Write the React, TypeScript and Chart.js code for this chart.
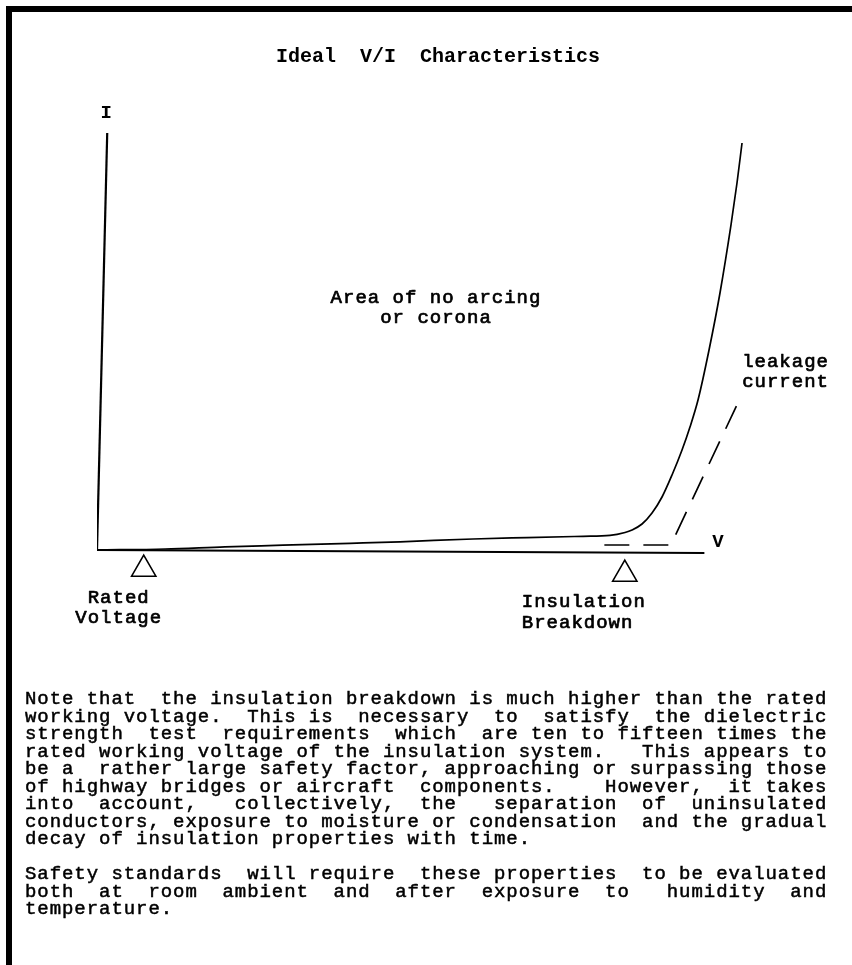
import React, { useEffect, useRef } from "react";
import { Chart, registerables } from "chart.js";

Chart.register(...registerables);

// ---- text ----
const chartTitle = "Ideal  V/I  Characteristics";
const yAxisLabel = "I";
const xAxisLabel = "V";
const areaLabel = ["Area of no arcing", "or corona"];
const leakageLabel = ["leakage", "current"];
const markerLabels = [
  ["Rated", "Voltage"],
  ["Insulation", "Breakdown"],
];

// ---- axes (the scanned page is slightly skewed) ----
const yAxisV = [0, 1.4];
const yAxisI = [0, 100];
const xAxisV = [0, 83.2];
const xAxisI = [0, -0.7];

// ---- ideal V/I characteristic ----
const curveV = [0, 9.32, 17.53, 25.48, 34.66, 41.51, 51.51, 58.9, 66.58, 70.27, 72.33, 73.29, 74.66, 76.03, 77.4, 78.77, 80.14, 81.23, 82.33, 83.84, 85.34, 86.85, 87.67, 88.36];
const curveI = [0, 0.24, 0.77, 1.15, 1.61, 1.97, 2.64, 2.97, 3.29, 3.5, 4.2, 4.8, 6.24, 8.87, 12.71, 17.99, 23.98, 29.5, 35.97, 47.96, 61.63, 77.94, 88.01, 97.6];

// ---- leakage current (dashed) ----
const leakageV = [69.5, 78.6, 88.1];
const leakageI = [1.2, 1.2, 36.4];

// ---- triangle markers: rated voltage, insulation breakdown ----
const markerV = [6.4, 72.3];
const markerI = [-4.6, -5.8];

// ---- note text ----
const noteLines = [
  "Note that  the insulation breakdown is much higher than the rated",
  "working voltage.  This is  necessary  to  satisfy  the dielectric",
  "strength  test  requirements  which  are ten to fifteen times the",
  "rated working voltage of the insulation system.   This appears to",
  "be a  rather large safety factor, approaching or surpassing those",
  "of highway bridges or aircraft  components.    However,  it takes",
  "into  account,   collectively,  the   separation  of  uninsulated",
  "conductors, exposure to moisture or condensation  and the gradual",
  "decay of insulation properties with time.",
  "",
  "Safety standards  will require  these properties  to be evaluated",
  "both  at  room  ambient  and  after  exposure  to   humidity  and",
  "temperature.",
];

const MONO = '"Liberation Mono", "DejaVu Sans Mono", monospace';
const W = 852;
const H = 965;

const zip = (xs: number[], ys: number[]) => xs.map((x, i) => ({ x, y: ys[i] }));

const textPlugin = {
  id: "docText",
  afterDatasetsDraw(chart: any) {
    const { ctx } = chart;
    const xs = chart.scales.x;
    const ys = chart.scales.y;
    const px = (v: number) => xs.getPixelForValue(v);
    const py = (i: number) => ys.getPixelForValue(i);
    const setFont = (weight: string, size: number, spacing: string) => {
      ctx.font = `${weight} ${size}px ${MONO}`;
      (ctx as any).letterSpacing = spacing;
    };
    const put = (s: string, x: number, y: number) => {
      ctx.fillText(s, x, y);
      ctx.strokeText(s, x, y);
    };
    ctx.save();
    ctx.fillStyle = "#000";
    ctx.strokeStyle = "#000";
    ctx.lineWidth = 0.7;
    ctx.lineJoin = "round";
    ctx.textBaseline = "alphabetic";

    // title
    setFont("bold", 20, "0px");
    ctx.textAlign = "center";
    ctx.fillText(chartTitle, 438, 62);

    // axis letters
    setFont("bold", 19, "0px");
    ctx.textAlign = "center";
    ctx.fillText(yAxisLabel, px(yAxisV[1]) - 1, py(yAxisI[1]) - 15);
    ctx.textAlign = "left";
    ctx.fillText(xAxisLabel, px(xAxisV[1]) + 8, py(xAxisI[1]) - 6);

    setFont("normal", 19, "1px");
    // area label
    ctx.textAlign = "center";
    put(areaLabel[0], 436, 303);
    put(areaLabel[1], 436, 323);

    // leakage label
    ctx.textAlign = "left";
    const lx = px(leakageV[2]) + 2;
    const ly = py(leakageI[2]) - 31;
    put(leakageLabel[0], lx, ly);
    put(leakageLabel[1], lx, ly + 20);

    // marker labels
    ctx.textAlign = "center";
    const r0x = px(markerV[0]) - 25;
    const r0y = py(markerI[0]) + 34;
    put(markerLabels[0][0], r0x, r0y);
    put(markerLabels[0][1], r0x, r0y + 20);
    ctx.textAlign = "left";
    const r1x = px(markerV[1]) - 103;
    const r1y = py(markerI[1]) + 33;
    put(markerLabels[1][0], r1x, r1y);
    put(markerLabels[1][1], r1x, r1y + 21);

    ctx.restore();
  },
};

export default function App() {
  const canvasRef = useRef<HTMLCanvasElement | null>(null);

  useEffect(() => {
    const canvas = canvasRef.current;
    if (!canvas) return;
    const chart = new Chart(canvas, {
      type: "scatter",
      data: {
        datasets: [
          {
            label: "I axis",
            data: zip(yAxisV, yAxisI),
            showLine: true,
            borderColor: "#000",
            borderWidth: 2.2,
            pointRadius: 0,
          },
          {
            label: "V axis",
            data: zip(xAxisV, xAxisI),
            showLine: true,
            borderColor: "#000",
            borderWidth: 2,
            pointRadius: 0,
          },
          {
            label: "Ideal V/I",
            data: zip(curveV, curveI),
            showLine: true,
            borderColor: "#000",
            borderWidth: 1.7,
            pointRadius: 0,
            cubicInterpolationMode: "monotone",
          },
          {
            label: "leakage current",
            data: zip(leakageV, leakageI),
            showLine: true,
            borderColor: "#000",
            borderWidth: 1.7,
            borderDash: [25, 14],
            pointRadius: 0,
            tension: 0,
          },
          {
            label: "markers",
            data: zip(markerV, markerI),
            showLine: false,
            pointStyle: "triangle",
            pointRadius: 14,
            pointBackgroundColor: "#fff",
            pointBorderColor: "#000",
            pointBorderWidth: 1.6,
          },
        ],
      } as any,
      options: {
        animation: false,
        responsive: false,
        devicePixelRatio: 1,
        events: [],
        layout: {
          padding: { left: 97, right: 25, top: 133, bottom: H - 633.4 },
        },
        plugins: {
          legend: { display: false },
          tooltip: { enabled: false },
          title: { display: false },
        },
        scales: {
          x: { type: "linear", min: 0, max: 100, display: false },
          y: { type: "linear", min: -20, max: 100, display: false },
        },
      } as any,
      plugins: [textPlugin],
    });
    return () => chart.destroy();
  }, []);

  return (
    <div
      style={{
        position: "absolute",
        left: 0,
        top: 0,
        width: W,
        height: H,
        background: "#fff",
        overflow: "hidden",
      }}
    >
      <div
        style={{
          position: "absolute",
          left: 6,
          top: 6,
          width: W,
          height: H,
          borderTop: "6px solid #000",
          borderLeft: "6px solid #000",
          boxSizing: "border-box",
        }}
      />
      <canvas
        ref={canvasRef}
        width={W}
        height={H}
        style={{ position: "absolute", left: 0, top: 0, width: W, height: H }}
      />
      <div
        style={{
          position: "absolute",
          left: 25,
          top: 691,
          fontFamily: MONO,
          fontSize: 19,
          letterSpacing: "0.94px",
          lineHeight: "17.5px",
          whiteSpace: "pre",
          color: "#000",
          WebkitTextStroke: "0.5px #000",
        }}
      >
        {noteLines.map((line, i) => (
          <div key={i} style={{ height: 17.5 }}>
            {line}
          </div>
        ))}
      </div>
    </div>
  );
}
